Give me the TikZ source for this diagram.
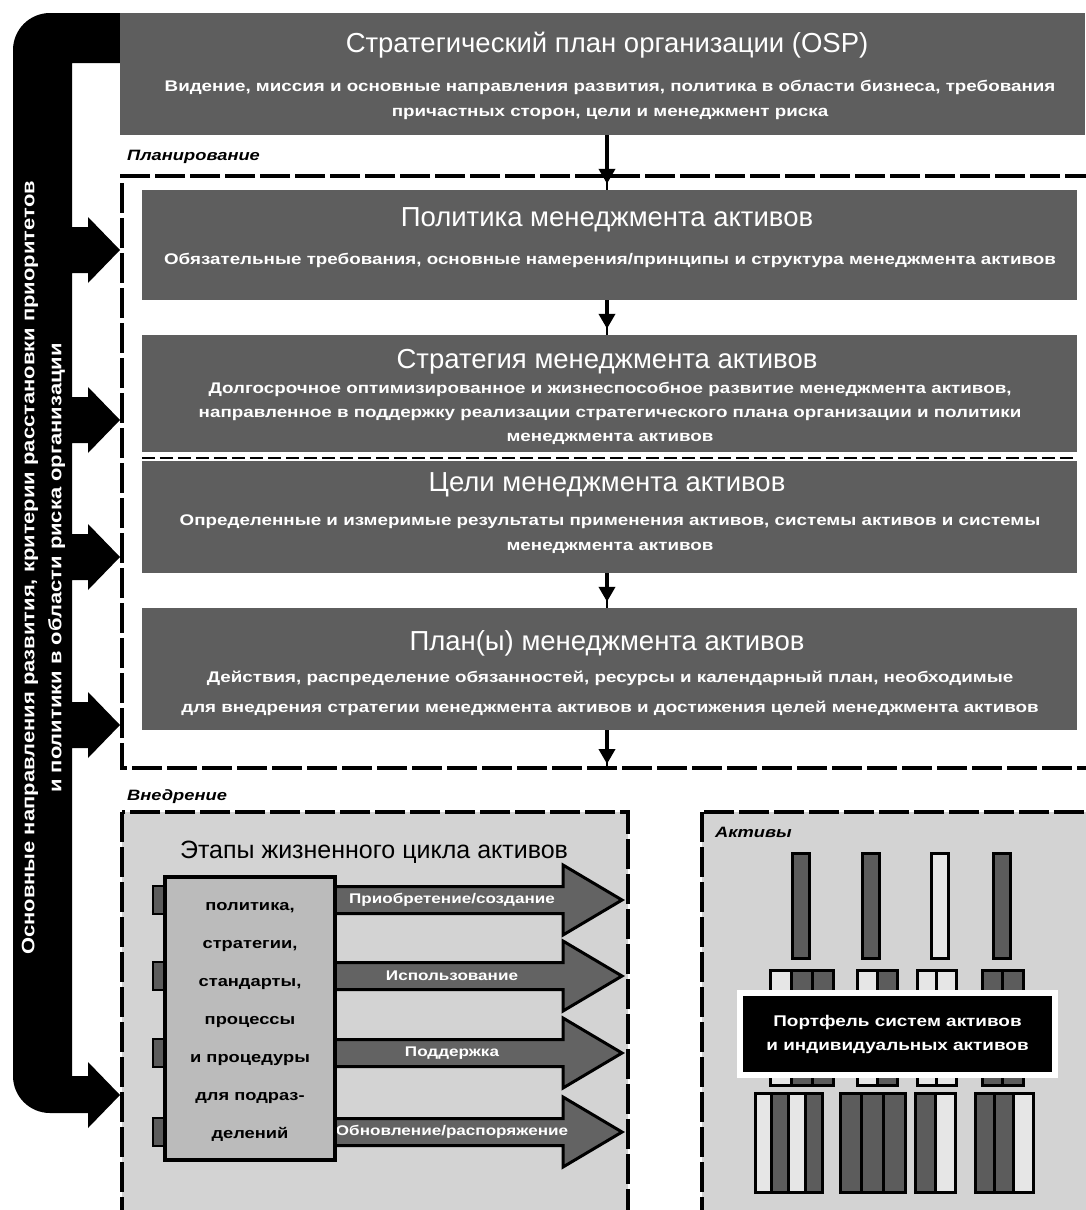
\documentclass[tikz,border=0pt]{standalone}
\usepackage{fontspec}
\setmainfont{Liberation Sans}
\newfontfamily\widefont[FakeStretch=1.22]{Liberation Sans}
\usetikzlibrary{arrows.meta}
\definecolor{boxgray}{HTML}{5E5E5E}
\definecolor{lightbg}{HTML}{D3D3D3}
\definecolor{midbox}{HTML}{BBBBBB}
\definecolor{arrgray}{HTML}{636363}
\definecolor{bardark}{HTML}{5C5C5C}
\definecolor{barlight}{HTML}{E6E6E6}
\begin{document}
\begin{tikzpicture}[x=1pt,y=-1pt,
  gbox/.style={fill=boxgray, draw=none, inner sep=0pt},
  ttl/.style={text=white, font=\fontsize{27.5}{30}\selectfont, inner sep=0pt},
  sub/.style={text=white, font=\widefont\bfseries\fontsize{15.4}{25}\selectfont, align=center, inner sep=0pt},
  zlabel/.style={font=\widefont\bfseries\itshape\fontsize{15}{18}\selectfont, anchor=west, inner sep=0pt},
  dframe/.style={line width=3.5pt, dash pattern=on 30pt off 5pt},
  conn/.style={line width=4.5pt, -{Triangle[width=16pt,length=15pt]}, shorten >=6pt},
  stub/.style={line width=2pt},
  blockarrow/.style={fill=arrgray, draw=black, line width=3pt, line join=miter},
  cell/.style={draw=black, line width=3pt},
  tab/.style={fill=bardark, draw=black, line width=2pt},
  alabel/.style={text=white, font=\widefont\bfseries\fontsize{14}{16}\selectfont, inner sep=0pt}
]
\useasboundingbox (0,0) rectangle (1085,1210);
\fill[white] (0,0) rectangle (1085,1210);

% ---------- black band with arrows ----------
\fill[black] (120,13) -- (50,13) arc[start angle=270, end angle=180, radius=37]
  -- (13,1076) arc[start angle=180, end angle=90, radius=37]
  -- (88,1113) -- (88,1128) -- (120,1095) -- (88,1062) -- (88,1076) -- (72,1076)
  -- (72,748) -- (88,748) -- (88,758) -- (120,725) -- (88,692) -- (88,702) -- (72,702)
  -- (72,580) -- (88,580) -- (88,590) -- (120,557) -- (88,524) -- (88,534) -- (72,534)
  -- (72,443) -- (88,443) -- (88,453) -- (120,420) -- (88,387) -- (88,397) -- (72,397)
  -- (72,273) -- (88,273) -- (88,283) -- (120,250) -- (88,217) -- (88,227) -- (72,227)
  -- (72,63) -- (120,63) -- cycle;
\node[rotate=90, text=white, align=center, inner sep=0pt,
  font=\widefont\bfseries\fontsize{18}{27}\selectfont] (bandtext) at (43.5,568)
  {Основные направления развития, критерии расстановки приоритетов\\и политики в области риска организации};

% ---------- OSP ----------
\node[gbox, minimum width=965pt, minimum height=122pt] (osp) at (602.5,74) {};
\node[ttl] (osptitle) at (607,45) {Стратегический план организации (OSP)};
\node[sub] (ospsub) at (610,99.5) {Видение, миссия и основные направления развития, политика в области бизнеса, требования\\причастных сторон, цели и менеджмент риска};

% ---------- planning frame ----------
\node[zlabel] (planlbl) at (127,157) {Планирование};
\draw[dframe] (1095,176) -- (122,176) -- (122,768) -- (1095,768);
\coordinate (framebot) at (607,768);

% ---------- policy ----------
\node[gbox, minimum width=935pt, minimum height=110pt] (policy) at (609.5,245) {};
\node[ttl] (poltitle) at (607,220) {Политика менеджмента активов};
\node[sub] (polsub) at (610,260) {Обязательные требования, основные намерения/принципы и структура менеджмента активов};

% ---------- strategy / goals ----------
\node[gbox, minimum width=935pt, minimum height=120pt] (strat) at (609.5,395) {};
\node[ttl] (strattitle) at (607,362) {Стратегия менеджмента активов};
\node[sub, font=\widefont\bfseries\fontsize{15.4}{24}\selectfont] (stratsub) at (610,413.5) {Долгосрочное оптимизированное и жизнеспособное развитие менеджмента активов,\\направленное в поддержку реализации стратегического плана организации и политики\\менеджмента активов};
\node[gbox, minimum width=935pt, minimum height=112pt] (goals) at (609.5,517) {};
\draw[white, line width=6pt] (strat.south west) -- (strat.south east);
\draw[black, line width=2.5pt, dash pattern=on 13pt off 5pt] ([yshift=-3pt]strat.south west) -- ([yshift=-3pt]strat.south east);
\node[ttl] (goalstitle) at (607,485) {Цели менеджмента активов};
\node[sub] (goalssub) at (610,534.5) {Определенные и измеримые результаты применения активов, системы активов и системы\\менеджмента активов};

% ---------- plans ----------
\node[gbox, minimum width=935pt, minimum height=122pt] (plans) at (609.5,669) {};
\node[ttl] (planstitle) at (607,643) {План(ы) менеджмента активов};
\node[sub, font=\widefont\bfseries\fontsize{15.4}{30}\selectfont] (planssub) at (610,693) {Действия, распределение обязанностей, ресурсы и календарный план, необходимые\\для внедрения стратегии менеджмента активов и достижения целей менеджмента активов};

% ---------- vertical connectors ----------
\draw[stub] (osp.south -| framebot) -- (policy.north -| framebot);
\draw[conn] (osp.south -| framebot) -- (policy.north -| framebot);
\draw[stub] (policy.south -| framebot) -- (strat.north -| framebot);
\draw[conn] (policy.south -| framebot) -- (strat.north -| framebot);
\draw[stub] (goals.south -| framebot) -- (plans.north -| framebot);
\draw[conn] (goals.south -| framebot) -- (plans.north -| framebot);
\draw[stub] (plans.south -| framebot) -- (framebot);
\draw[conn, shorten >=4pt] (plans.south -| framebot) -- (framebot);

% ---------- implementation ----------
\node[zlabel] (impllbl) at (127,797) {Внедрение};
\draw[dframe, fill=lightbg] (122,812) rectangle (628,1235);
\draw[dframe, fill=lightbg] (702,812) rectangle (1100,1235);

% lifecycle
\node[inner sep=0pt, font=\fontsize{25}{28}\selectfont] (lctitle) at (374,852) {Этапы жизненного цикла активов};
\foreach \yc/\lab in {900/Приобретение\slash создание, 976/Использование, 1053/Поддержка, 1132/Обновление\slash распоряжение}{
  \draw[blockarrow] (335,\yc-13.5) -- (563,\yc-13.5) -- (563,\yc-35) -- (622,\yc) -- (563,\yc+35) -- (563,\yc+13.5) -- (335,\yc+13.5) -- cycle;
  \node[alabel] at (452,\yc) {\lab};
  \draw[tab] (153,\yc-14) rectangle (165,\yc+14);
}
\node[fill=midbox, draw=black, line width=3.5pt, minimum width=170pt, minimum height=283pt, inner sep=0pt] (lcbox) at (250,1018.5) {};
\node[align=center, inner sep=0pt, font=\widefont\bfseries\fontsize{15}{38}\selectfont] (lctext) at (250,1022)
  {политика,\\стратегии,\\стандарты,\\процессы\\и процедуры\\для подраз-\\делений};

% assets
\node[zlabel] (assetslbl) at (715,832) {Активы};
\foreach \x/\c in {792/bardark, 862/bardark, 931/barlight, 993/bardark}
  \draw[cell, fill=\c] (\x,853) rectangle ++(17,105);
\foreach \x/\w/\c in {770/21/barlight, 791/21/bardark, 812/21/bardark,
                      857/20/barlight, 877/20/bardark,
                      917/19.5/barlight, 936.5/19.5/barlight,
                      982/20.5/bardark, 1002.5/20.5/bardark}
  \draw[cell, fill=\c] (\x,970) rectangle ++(\w,115);
\foreach \x/\w/\c in {755/16.75/barlight, 771.75/16.75/bardark, 788.5/16.75/barlight, 805.25/16.75/bardark,
                      840/21.67/bardark, 861.67/21.67/bardark, 883.33/21.67/bardark,
                      915/20/bardark, 935/20/barlight,
                      975/19.33/bardark, 994.33/19.33/bardark, 1013.67/19.33/barlight}
  \draw[cell, fill=\c] (\x,1093) rectangle ++(\w,99);
\node[fill=black, draw=white, line width=6pt, minimum width=315pt, minimum height=82pt, inner sep=0pt,
  text=white, align=center, font=\widefont\bfseries\fontsize{15.5}{24}\selectfont] (portfolio) at (897.5,1034)
  {Портфель систем активов\\и индивидуальных активов};
\end{tikzpicture}
\end{document}
